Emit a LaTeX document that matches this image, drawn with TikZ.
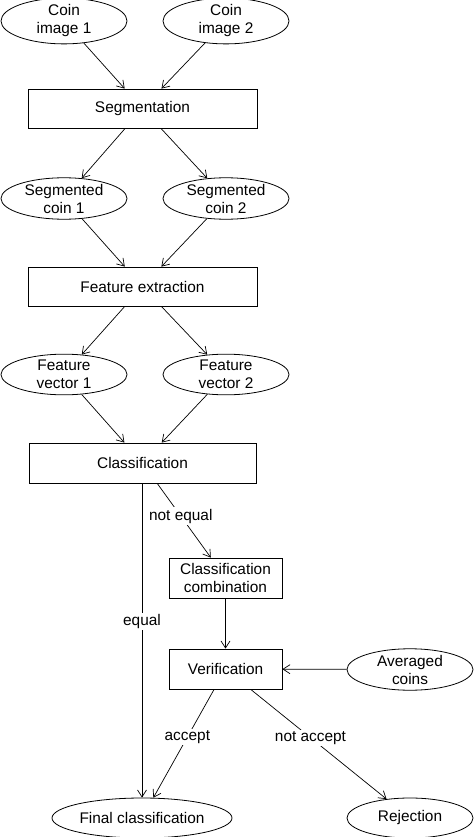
\documentclass[tikz,border=0pt]{standalone}
\usepackage{fontspec}
\setmainfont{Liberation Sans}
\usetikzlibrary{shapes.geometric,arrows.meta}
\tikzset{
  every node/.style={font=\fontsize{15.4}{18}\selectfont, align=center, inner sep=0pt},
  oval/.style={draw, ellipse, minimum width=126pt, minimum height=38pt, line width=0.8pt},
  stepbox/.style={draw, rectangle, line width=0.8pt},
  flow/.style={draw, line width=0.7pt, -{Straight Barb[length=7pt,width=9pt]}},
  lbl/.style={fill=white, inner sep=1.5pt, pos=0.44}
}
\begin{document}
\begin{tikzpicture}[x=1pt,y=-1pt]
\useasboundingbox (0,0) rectangle (474,837);
\node[oval] (c1) at (64,21) {Coin\\image 1};
\node[oval] (c2) at (226,21) {Coin\\image 2};
\node[stepbox, minimum width=229pt, minimum height=39pt] (seg) at (142.5,108.5) {Segmentation};
\node[oval] (s1) at (64,198.5) {Segmented\\coin 1};
\node[oval] (s2) at (226,198.5) {Segmented\\coin 2};
\node[stepbox, minimum width=229pt, minimum height=39pt] (fe) at (142.5,286.5) {Feature extraction};
\node[oval] (f1) at (64,374.5) {Feature\\vector 1};
\node[oval] (f2) at (226,374.5) {Feature\\vector 2};
\node[stepbox, minimum width=227pt, minimum height=40pt] (cl) at (142.5,463) {Classification};
\node[stepbox, minimum width=113pt, minimum height=40pt] (cc) at (225.5,578) {Classification\\combination};
\node[stepbox, minimum width=113pt, minimum height=40pt] (ver) at (225.5,669) {Verification};
\node[oval] (av) at (410,669.5) {Averaged\\coins};
\node[oval, minimum width=180pt, minimum height=40pt] (fin) at (142,818) {Final classification};
\node[oval, minimum height=40pt] (rej) at (410,818) {Rejection};

\draw[flow] (c1) -- (seg);
\draw[flow] (c2) -- (seg);
\draw[flow] (seg) -- (s1);
\draw[flow] (seg) -- (s2);
\draw[flow] (s1) -- (fe);
\draw[flow] (s2) -- (fe);
\draw[flow] (fe) -- (f1);
\draw[flow] (fe) -- (f2);
\draw[flow] (f1) -- (cl);
\draw[flow] (f2) -- (cl);
\draw[flow] (cl) -- node[lbl] {not equal} (cc);
\draw[flow] (cl.south -| fin.north) -- node[lbl] {equal} (fin.north);
\draw[flow] (cc) -- (ver);
\draw[flow] (av) -- (ver);
\draw[flow] (ver) -- node[lbl] {accept} (fin);
\draw[flow] (ver) -- node[lbl] {not accept} (rej);
\end{tikzpicture}
\end{document}
